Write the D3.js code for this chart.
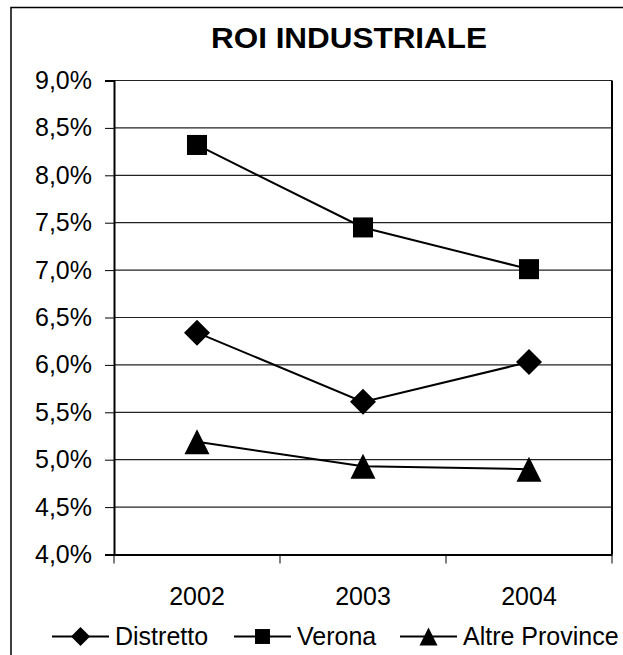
<!DOCTYPE html>
<html>
<head>
<meta charset="utf-8">
<script src="https://cdn.jsdelivr.net/npm/d3@7"></script>
<style>
  body{margin:0;background:#fff;}
  svg text{font-family:Arial,"Liberation Sans",sans-serif;fill:#000;}
</style>
</head>
<body>
<div id="chart"></div>
<script>
const categories = ['2002','2003','2004'];
const distretto = [6.34, 5.61, 6.03];
const verona = [8.32, 7.45, 7.01];
const altre = [5.19, 4.93, 4.90];
const yTicks = [4.0,4.5,5.0,5.5,6.0,6.5,7.0,7.5,8.0,8.5,9.0];
const seriesNames = ['Distretto','Verona','Altre Province'];

const W=623, H=655;
const svg = d3.select('#chart').append('svg').attr('width',W).attr('height',H);

// outer frame (runs off the right/bottom edge like the source)
svg.append('rect').attr('x',11).attr('y',7.5).attr('width',W+20).attr('height',H+20)
  .attr('fill','#fff').attr('stroke','#000').attr('stroke-width',1.5);

const m = {l:114, r:612, t:80.5, b:554.5};
const x = d3.scaleBand().domain(categories).range([m.l,m.r]);
const y = d3.scaleLinear().domain([4,9]).range([m.b,m.t]);
const fmt = v => d3.format('.1f')(v).replace('.',',') + '%';

svg.append('text').attr('x',211).attr('y',47.5)
  .attr('font-size',30).attr('font-weight','bold')
  .attr('textLength',276).attr('lengthAdjust','spacingAndGlyphs')
  .text('ROI INDUSTRIALE');

// gridlines
svg.append('g').selectAll('line').data(yTicks).join('line')
  .attr('x1',m.l).attr('x2',m.r).attr('y1',d=>y(d)).attr('y2',d=>y(d))
  .attr('stroke','#222').attr('stroke-width',1.2);

// right border
svg.append('line').attr('x1',m.r).attr('x2',m.r).attr('y1',m.t).attr('y2',m.b)
  .attr('stroke','#000').attr('stroke-width',2);

// y axis
const gy = svg.append('g').attr('transform',`translate(${m.l},0)`)
  .call(d3.axisLeft(y).tickValues(yTicks).tickFormat(fmt).tickSize(9).tickPadding(13));
gy.select('.domain').attr('stroke','#000').attr('stroke-width',2);
gy.selectAll('.tick line').attr('stroke','#000').attr('stroke-width',1);
gy.selectAll('text').attr('font-size',25).attr('font-family','Arial,"Liberation Sans",sans-serif').attr('dy','0.32em');

// x axis with ticks at category boundaries
const gx = svg.append('g').attr('transform',`translate(0,${m.b})`)
  .call(d3.axisBottom(x).tickSize(0).tickPadding(33));
gx.select('.domain').attr('stroke','#000').attr('stroke-width',2);
gx.selectAll('text').attr('font-size',25).attr('font-family','Arial,"Liberation Sans",sans-serif');
const bounds = [m.l, ...categories.map(c=>x(c)+x.bandwidth())];
gx.append('g').selectAll('line').data(bounds).join('line')
  .attr('x1',d=>d).attr('x2',d=>d).attr('y1',0).attr('y2',9)
  .attr('stroke','#000').attr('stroke-width',1);

// markers
function marker(g, type, s){
  if(type==='diamond'){
    g.append('path').attr('d',`M0,${-s}L${s},0L0,${s}L${-s},0Z`).attr('fill','#000');
  } else if(type==='square'){
    g.append('rect').attr('x',-s*0.77).attr('y',-s*0.77).attr('width',s*1.54).attr('height',s*1.54).attr('fill','#000');
  } else {
    g.append('path').attr('d',`M0,${-s}L${s},${s}L${-s},${s}Z`).attr('fill','#000');
  }
}

const series = [
  {name:seriesNames[0], values:distretto, type:'diamond'},
  {name:seriesNames[1], values:verona, type:'square'},
  {name:seriesNames[2], values:altre, type:'triangle'}
];
const cx = c => x(c) + x.bandwidth()/2;
const line = d3.line().x((d,i)=>cx(categories[i])).y(d=>y(d));

series.forEach(s=>{
  svg.append('path').datum(s.values).attr('d',line)
    .attr('fill','none').attr('stroke','#000').attr('stroke-width',2);
  s.values.forEach((v,i)=>{
    const g = svg.append('g').attr('transform',`translate(${cx(categories[i])},${y(v)})`);
    marker(g, s.type, s.type==='triangle'?12.5:(s.type==='diamond'?13:13));
  });
});

// legend
const legendX = [52, 234, 400];
const ly = 636.5;
series.forEach((s,i)=>{
  const lg = svg.append('g').attr('transform',`translate(${legendX[i]},${ly})`);
  lg.append('line').attr('x1',0).attr('x2',57).attr('stroke','#000').attr('stroke-width',2);
  const mk = lg.append('g').attr('transform','translate(28.5,0)');
  marker(mk, s.type, s.type==='triangle'?9:(s.type==='diamond'?9.5:9.7));
  lg.append('text').attr('x',63).attr('y',0).attr('dy','0.35em')
    .attr('font-size',25).text(s.name);
});
</script>
</body>
</html>
